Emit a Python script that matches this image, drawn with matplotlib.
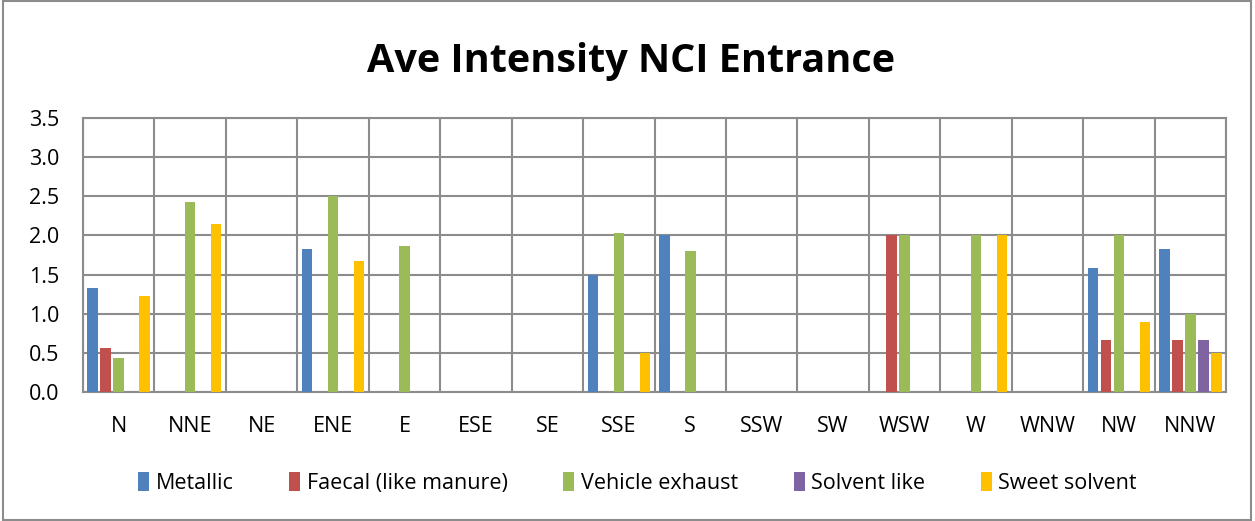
import numpy as np
import matplotlib.pyplot as plt
from matplotlib.patches import Rectangle

directions = ['N', 'NNE', 'NE', 'ENE', 'E', 'ESE', 'SE', 'SSE', 'S',
              'SSW', 'SW', 'WSW', 'W', 'WNW', 'NW', 'NNW']

metallic = [1.33, 0, 0, 1.83, 0, 0, 0, 1.5, 2.0, 0, 0, 0, 0, 0, 1.58, 1.83]
faecal = [0.56, 0, 0, 0, 0, 0, 0, 0, 0, 0, 0, 2.0, 0, 0, 0.67, 0.67]
vehicle = [0.44, 2.43, 0, 2.5, 1.86, 0, 0, 2.03, 1.8, 0, 0, 2.0, 2.0, 0, 2.0, 1.0]
solvent = [0, 0, 0, 0, 0, 0, 0, 0, 0, 0, 0, 0, 0, 0, 0, 0.67]
sweet = [1.22, 2.14, 0, 1.67, 0, 0, 0, 0.5, 0, 0, 0, 0, 2.0, 0, 0.89, 0.5]

series = [('Metallic', metallic, '#4f81bd'),
          ('Faecal (like manure)', faecal, '#c0504d'),
          ('Vehicle exhaust', vehicle, '#9bbb59'),
          ('Solvent like', solvent, '#8064a2'),
          ('Sweet solvent', sweet, '#ffc000')]

plt.rcParams['font.family'] = ['Open Sans', 'DejaVu Sans']

fig = plt.figure(figsize=(12.55, 5.21), dpi=100)
ax = fig.add_axes([0.0661, 0.2476, 0.9109, 0.5259])

x = np.arange(len(directions))
pitch = 0.182
width = 0.147
for i, (name, vals, col) in enumerate(series):
    ax.bar(x + (i - 2) * pitch, vals, width, color=col, label=name, zorder=3)

ax.set_xlim(-0.5, len(directions) - 0.5)
ax.set_ylim(0, 3.5)
ax.set_yticks(np.arange(0, 3.51, 0.5))
ax.set_yticklabels(['%.1f' % v for v in np.arange(0, 3.51, 0.5)], fontsize=15.5)
ax.set_xticks(x)
ax.set_xticklabels(directions, fontsize=15.5)
ax.set_xticks(np.arange(-0.5, len(directions)), minor=True)
ax.tick_params(axis='both', which='both', length=0)
ax.tick_params(axis='x', pad=17)
ax.tick_params(axis='y', pad=17)
ax.grid(True, axis='y', color='#8c8c8c', linewidth=1.5, zorder=0)
ax.grid(True, axis='x', which='minor', color='#8c8c8c', linewidth=1.5, zorder=0)
for s in ax.spines.values():
    s.set_color('#8c8c8c')
    s.set_linewidth(1.5)

fig.text(0.503, 0.882, 'Ave Intensity NCI Entrance', ha='center', va='center',
         fontsize=28.5, fontweight='bold')

fig.legend(loc='center', bbox_to_anchor=(0.508, 0.073), ncol=5, frameon=False,
           fontsize=15.5, handlelength=0.5, handleheight=1.0, handletextpad=0.3,
           columnspacing=2.6)

fig.patches.append(Rectangle((0.002, 0.002), 0.995, 0.996, transform=fig.transFigure,
                             fill=False, edgecolor='#8c8c8c', linewidth=1.5))

fig.savefig('out.png', dpi=100)
